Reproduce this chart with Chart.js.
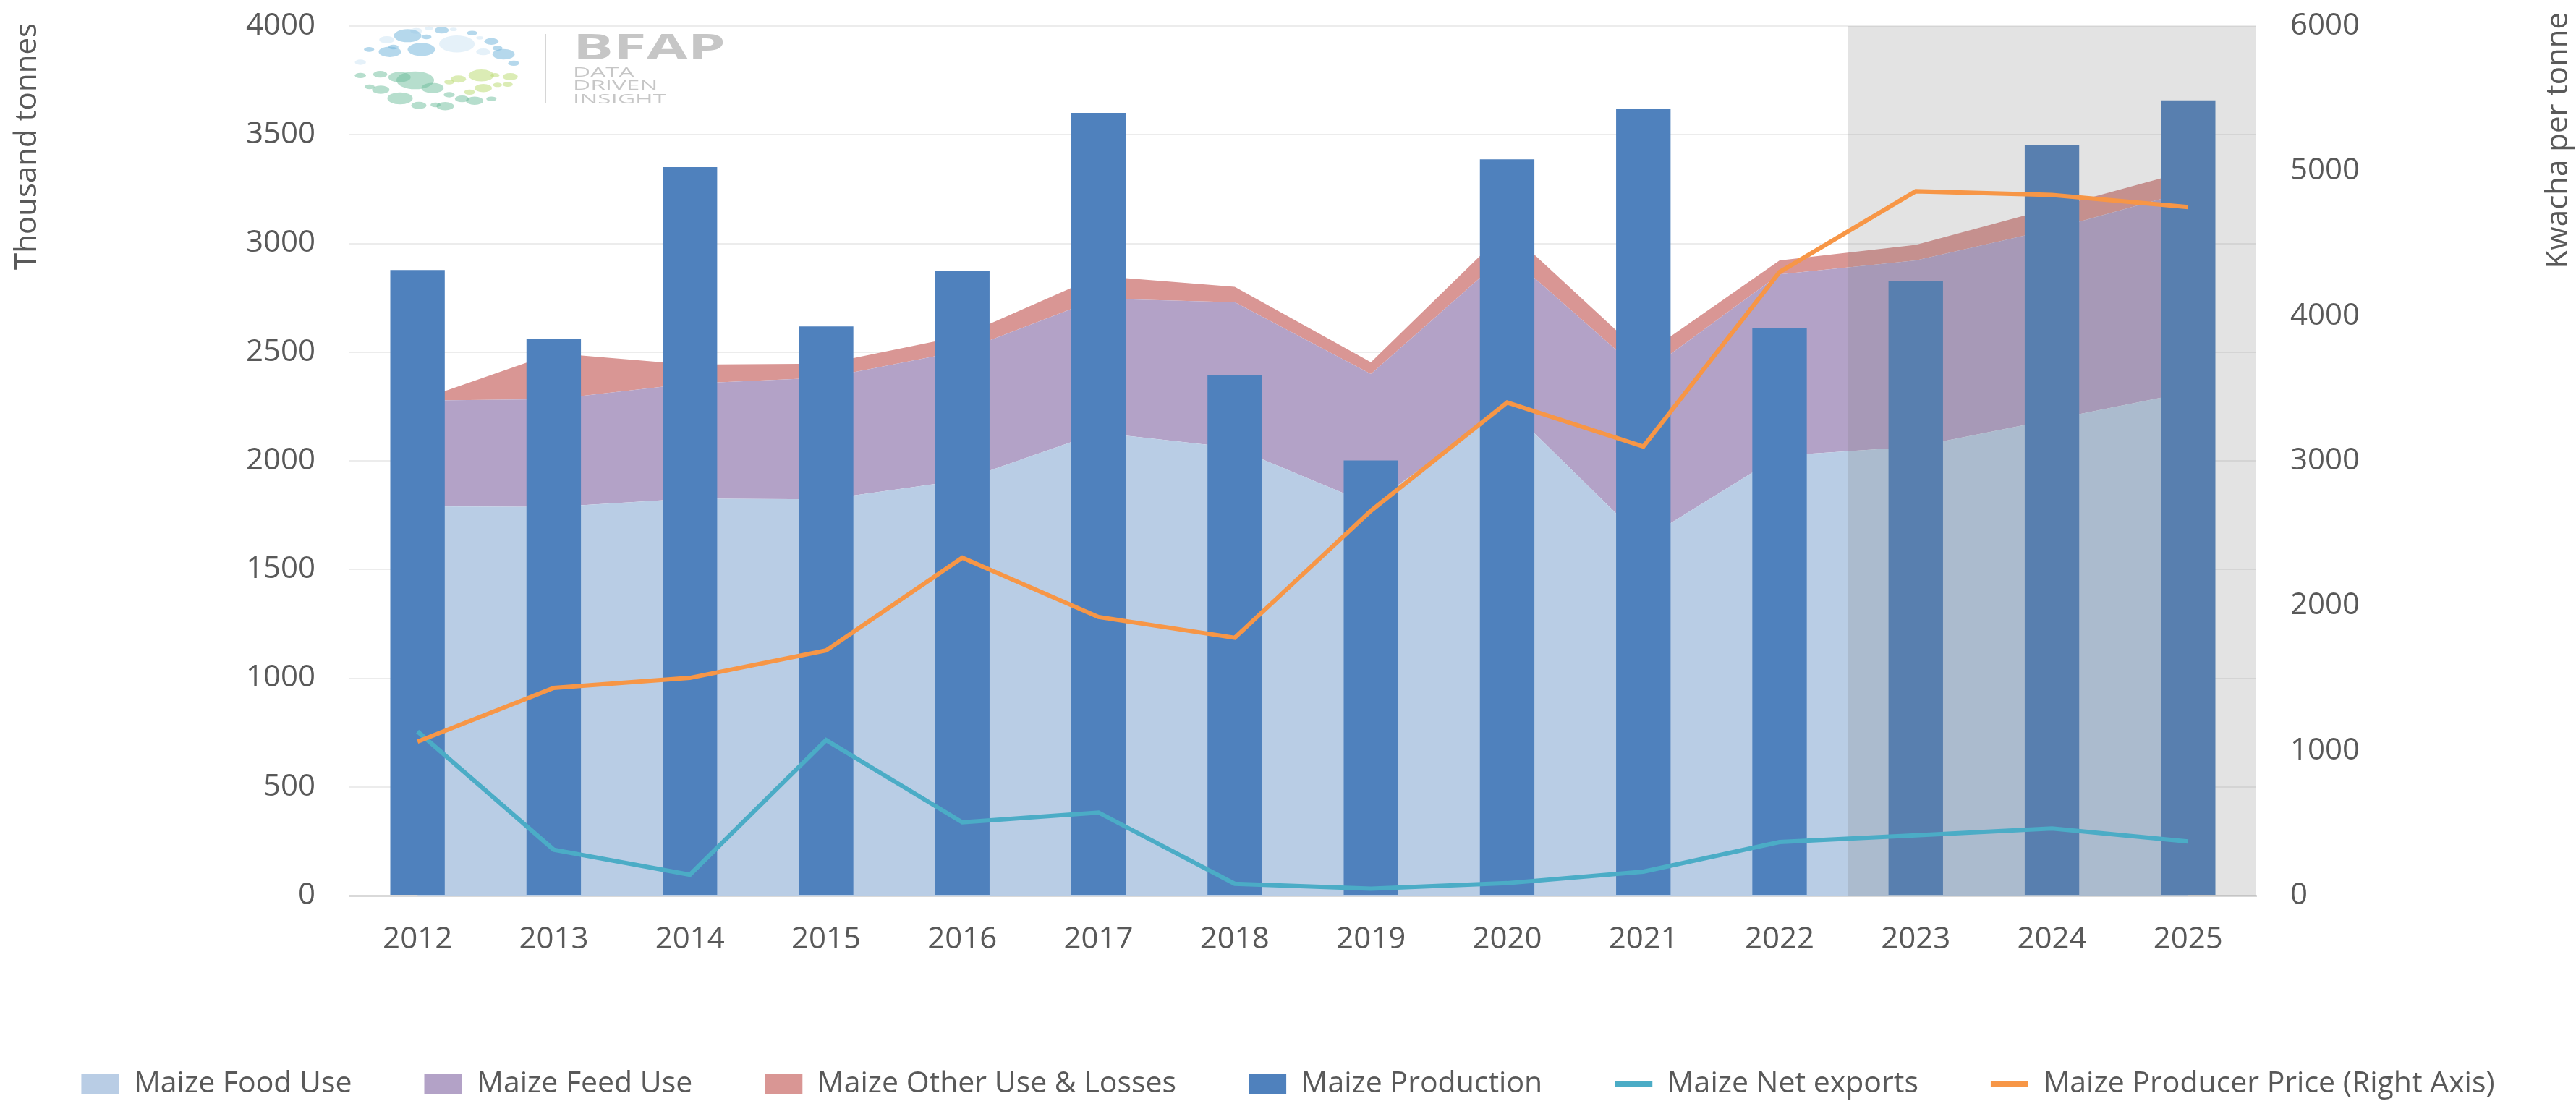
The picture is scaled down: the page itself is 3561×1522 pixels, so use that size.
<!DOCTYPE html>
<html>
<head>
<meta charset="utf-8">
<title>Maize supply, use and producer price</title>
<script src="https://cdn.jsdelivr.net/npm/chart.js@4.4.1/dist/chart.umd.min.js"></script>
<style>
  html, body { margin: 0; padding: 0; background: #ffffff; }
  #wrap { width: 3561px; height: 1522px; }
</style>
</head>
<body>
<div id="wrap"><canvas id="chart" width="3561" height="1522"></canvas></div>
<script>
/**********************************
  1) DATA (thousand tonnes, price in Kwacha/t)
**********************************/
const YEARS          = ['2012', '2013', '2014', '2015', '2016', '2017', '2018',
                        '2019', '2020', '2021', '2022', '2023', '2024', '2025'];
const PRODUCTION     = [2878, 2562, 3351, 2618, 2872, 3601, 2393, 2002, 3387, 3621, 2612, 2826, 3454, 3658];
const FOOD_USE       = [1790, 1788, 1826, 1823, 1911, 2130, 2060, 1799, 2250, 1636, 2023, 2065, 2190, 2315];
const FEED_USE       = [487, 496, 529, 560, 595, 616, 670, 600, 702, 764, 835, 857, 875, 925];
const OTHER_USE      = [0, 211, 88, 64, 69, 104, 70, 54, 112, 85, 64, 71, 97, 94];
const NET_EXPORTS    = [755, 211, 96, 715, 337, 382, 54, 32, 57, 110, 246, 277, 309, 249];
const PRODUCER_PRICE = [1062, 1433, 1502, 1691, 2331, 1922, 1779, 2655, 3402, 3098, 4302, 4860, 4835, 4751];

const LEFT_TICKS  = [0, 500, 1000, 1500, 2000, 2500, 3000, 3500, 4000];
const RIGHT_TICKS = [0, 1000, 2000, 3000, 4000, 5000, 6000];

const LEFT_TITLE  = 'Thousand tonnes';
const RIGHT_TITLE = 'Kwacha per tonne';
const FIRST_PROJECTION = '2023';   // baseline years get the grey band

/**********************************
  2) STYLE
**********************************/
const FONT = 'Open Sans';
const TEXT_GREY = '#595959';
const tickFont = { family: FONT, size: 42 };
const legendFont = { family: FONT, size: 41 };

// BFAP watermark: dots relative to the plot's top-left corner [x, y, r, colour]
const LOGO_COLOURS = ['rgba(120,184,220,0.55)', 'rgba(150,200,230,0.25)',
                      'rgba(110,190,155,0.5)', 'rgba(190,220,120,0.55)'];
const LOGO_DOTS = [
  [80.5, 13.3, 19, 0], [92.4, 6.7, 8.4, 1], [110, 3.3, 5.6, 1], [127.5, 5.7, 9.8, 0],
  [143.7, 4.7, 4.9, 1], [169.6, 9.7, 7, 0], [180.2, 16.3, 4.9, 1], [196.3, 21.3, 9.8, 0],
  [148.6, 24.7, 24.6, 1], [106.5, 15, 7, 0], [51.7, 19, 10.5, 1], [60.9, 29, 7, 0],
  [27.2, 32.3, 7, 0], [55.9, 35.7, 15.4, 0], [99.5, 32.3, 19, 0], [185, 35.7, 9.8, 1],
  [204.7, 30.7, 7, 0], [213.1, 39, 15.4, 0], [227.2, 51.3, 7.7, 0], [15.2, 50, 7.7, 1],
  [15.2, 68.3, 7.7, 2], [42.6, 66.7, 9.8, 2], [69.3, 70.7, 15.4, 2], [91, 75, 26, 2],
  [114.9, 85.7, 15.4, 2], [27.9, 84, 7, 2], [43.3, 88, 12, 2], [70, 100, 17.5, 2],
  [96, 109.7, 10.5, 2], [119.1, 109, 7, 2], [132.4, 110.7, 12, 2], [138, 95, 7.7, 2],
  [155.6, 100.7, 9.8, 2], [173.1, 103.3, 12, 2], [196.3, 100.7, 7, 2],
  [138, 77.3, 7, 3], [150.7, 73.3, 10.5, 3], [182.3, 68.3, 17.5, 3], [201.2, 68, 6.3, 3],
  [222.3, 70, 10.5, 3], [166.1, 91.3, 7.7, 3], [185, 85.7, 12, 3], [204.7, 81.3, 6.3, 3],
  [218.8, 80.7, 7, 3]
];

/**********************************
  3) PLUGINS
**********************************/
// Grey band over the projection years, drawn after the bars but under the lines
const projectionShade = {
  id: 'projectionShade',
  afterDatasetDraw(chart, args) {
    if (args.meta.type !== 'bar') return;
    const x = chart.scales.x;
    const area = chart.chartArea;
    const i = YEARS.indexOf(FIRST_PROJECTION);
    const left = (x.getPixelForValue(i - 1) + x.getPixelForValue(i)) / 2;
    const ctx = chart.ctx;
    ctx.save();
    ctx.fillStyle = 'rgba(122,122,122,0.21)';
    ctx.fillRect(left, area.top, area.right - left, area.bottom - area.top);
    ctx.restore();
  }
};

// Axis titles (both read bottom-to-top, anchored at the top) and the watermark
const decorations = {
  id: 'decorations',
  beforeDatasetsDraw(chart) {
    const ctx = chart.ctx;
    const area = chart.chartArea;
    ctx.save();
    ctx.translate(area.left, area.top);
    LOGO_DOTS.forEach(([x, y, r, c]) => {
      ctx.fillStyle = LOGO_COLOURS[c];
      ctx.beginPath();
      ctx.ellipse(x, y, r, r * 0.475, 0, 0, Math.PI * 2);
      ctx.fill();
    });
    ctx.strokeStyle = '#d6d6d6';
    ctx.lineWidth = 2;
    ctx.beginPath();
    ctx.moveTo(271, 11);
    ctx.lineTo(271, 107);
    ctx.stroke();

    ctx.fillStyle = '#c6c6c6';
    ctx.textBaseline = 'alphabetic';
    ctx.font = 'bold 49px ' + FONT;
    let w = ctx.measureText('BFAP').width;
    ctx.save();
    ctx.translate(309, 46);
    ctx.scale(211 / w, 1);
    ctx.fillText('BFAP', 0, 0);
    ctx.restore();

    ctx.font = '18px ' + FONT;
    w = ctx.measureText('INSIGHT').width;
    [['DATA', 70], ['DRIVEN', 88], ['INSIGHT', 107]].forEach(([t, y]) => {
      ctx.save();
      ctx.translate(309, y);
      ctx.scale(129 / w, 1);
      ctx.fillText(t, 0, 0);
      ctx.restore();
    });
    ctx.restore();
  },
  afterDraw(chart) {
    const ctx = chart.ctx;
    ctx.save();
    ctx.fillStyle = TEXT_GREY;
    ctx.font = '42px ' + FONT;
    ctx.textAlign = 'right';
    ctx.textBaseline = 'middle';
    [[LEFT_TITLE, 38, 32], [RIGHT_TITLE, 3537, 17]].forEach(([t, x, y]) => {
      ctx.save();
      ctx.translate(x, y);
      ctx.rotate(-Math.PI / 2);
      ctx.fillText(t, 0, 0);
      ctx.restore();
    });
    ctx.restore();
  }
};

/**********************************
  4) CHART
**********************************/
function areaSet(label, data, colour, fill) {
  return {
    type: 'line', label, data, fill, stack: 'use',
    backgroundColor: colour, borderWidth: 0,
    pointRadius: 0, pointHoverRadius: 0, tension: 0, order: 4
  };
}

function lineSet(label, data, colour, axis, order) {
  return {
    type: 'line', label, data, yAxisID: axis, stack: label,
    fill: false, borderColor: colour, backgroundColor: colour,
    borderWidth: 6, pointRadius: 0, pointHoverRadius: 0, tension: 0, order
  };
}

// plain numbers, no thousands separator
const plainTick = value => String(value);

const ctx = document.getElementById('chart').getContext('2d');
new Chart(ctx, {
  data: {
    labels: YEARS,
    datasets: [
      areaSet('Maize Food Use', FOOD_USE, '#b9cde5', 'origin'),
      areaSet('Maize Feed Use', FEED_USE, '#b3a2c7', '-1'),
      areaSet('Maize Other Use & Losses', OTHER_USE, '#d99694', '-1'),
      {
        type: 'bar', label: 'Maize Production', data: PRODUCTION, stack: 'production',
        backgroundColor: '#4f81bd', borderWidth: 0,
        barPercentage: 0.4, categoryPercentage: 1, order: 3
      },
      lineSet('Maize Net exports', NET_EXPORTS, '#4bacc6', 'y', 2),
      lineSet('Maize Producer Price (Right Axis)', PRODUCER_PRICE, '#f79646', 'y1', 1)
    ]
  },
  options: {
    responsive: false,
    animation: false,
    devicePixelRatio: 1,
    layout: { padding: { top: 36, bottom: -7, left: 0, right: 0 } },
    plugins: {
      tooltip: { enabled: false },
      legend: {
        position: 'bottom',
        align: 'center',
        labels: {
          font: legendFont,
          color: TEXT_GREY,
          usePointStyle: true,
          pointStyleWidth: 52,
          boxHeight: 28,
          padding: 100,
          sort: (a, b) => a.datasetIndex - b.datasetIndex,
          generateLabels(chart) {
            const items = Chart.defaults.plugins.legend.labels.generateLabels(chart);
            items.forEach(item => {
              const ds = chart.data.datasets[item.datasetIndex];
              if (ds.fill === false) {
                item.pointStyle = 'line';
                item.strokeStyle = ds.borderColor;
                item.lineWidth = 7;
              } else {
                item.pointStyle = 'rect';
                item.fillStyle = ds.backgroundColor;
                item.lineWidth = 0;
              }
            });
            return items;
          }
        }
      }
    },
    scales: {
      x: {
        offset: true,
        grid: { display: false, drawTicks: false },
        border: { color: '#d9d9d9', width: 3 },
        ticks: { font: tickFont, color: TEXT_GREY, padding: 36 },
        afterFit(scale) { scale.height = 140; }
      },
      y: {
        position: 'left',
        stacked: true,
        min: LEFT_TICKS[0],
        max: LEFT_TICKS[LEFT_TICKS.length - 1],
        ticks: {
          stepSize: LEFT_TICKS[1] - LEFT_TICKS[0], font: tickFont, color: TEXT_GREY,
          padding: 6, callback: plainTick
        },
        grid: { color: '#ececec', lineWidth: 2, drawTicks: true, tickLength: 41, tickColor: 'rgba(0,0,0,0)' },
        border: { display: false },
        afterFit(scale) { scale.width = 483; }
      },
      y1: {
        position: 'right',
        min: RIGHT_TICKS[0],
        max: RIGHT_TICKS[RIGHT_TICKS.length - 1],
        ticks: {
          stepSize: RIGHT_TICKS[1] - RIGHT_TICKS[0], font: tickFont, color: TEXT_GREY,
          padding: 6, callback: plainTick
        },
        grid: { drawOnChartArea: false, drawTicks: true, tickLength: 41, tickColor: 'rgba(0,0,0,0)' },
        border: { display: false },
        afterFit(scale) { scale.width = 442; }
      }
    }
  },
  plugins: [projectionShade, decorations]
});
</script>
</body>
</html>
